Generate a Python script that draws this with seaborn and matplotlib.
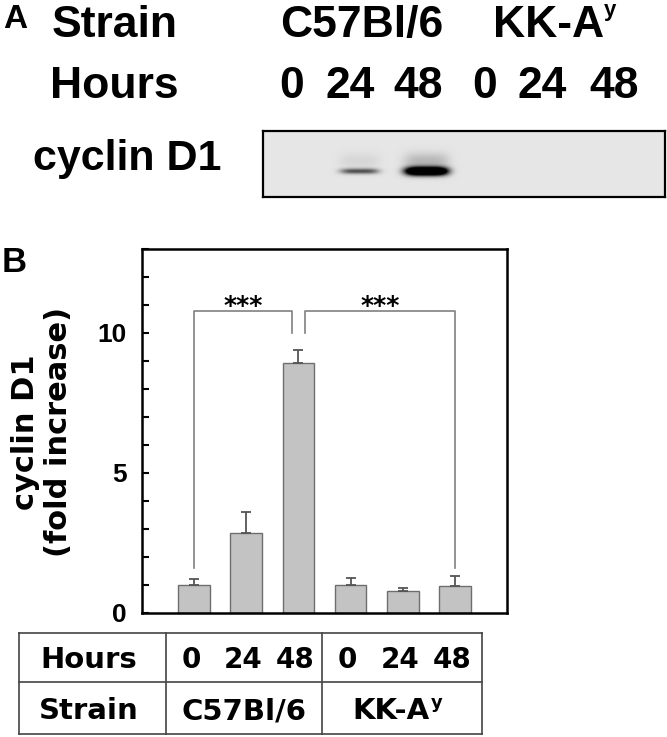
import numpy as np
import pandas as pd
import matplotlib
matplotlib.use("Agg")
import matplotlib.pyplot as plt
from matplotlib.ticker import MultipleLocator, FixedLocator
import seaborn as sns

# ---------------- data ----------------
strains = ["C57Bl/6", "C57Bl/6", "C57Bl/6", "KK-A", "KK-A", "KK-A"]
hours = ["0", "24", "48", "0", "24", "48"]
fold_increase = [1.00, 2.87, 8.93, 1.01, 0.77, 0.98]
sem = [0.22, 0.75, 0.47, 0.25, 0.13, 0.34]
band_intensity = [0.0, 0.33, 1.0, 0.0, 0.0, 0.0]
y_major_ticks = [0, 5, 10]
significance = ["***", "***"]

# ---------------- layout ----------------
W, H = 667, 737
fig = plt.figure(figsize=(W / 100, H / 100), dpi=100)
LIB = "Liberation Sans"
DJ = "DejaVu Sans"


def fbox(x0, y0, x1, y1):
    return [x0 / W, 1 - y1 / H, (x1 - x0) / W, (y1 - y0) / H]


ov = fig.add_axes([0, 0, 1, 1], zorder=0)
ov.set_xlim(0, W)
ov.set_ylim(H, 0)
ov.axis("off")


def t(x, y, s, size, family=LIB, ha="left", va="baseline", **kw):
    return ov.text(x, y, s, fontsize=size, fontweight="bold", family=family,
                   ha=ha, va=va, **kw)


# ---------------- Panel A ----------------
t(3, 28, "A", 24)
t(52, 37, "Strain", 32)
t(362, 37, "C57Bl/6", 32, ha="center")
t(493, 37, "KK-A", 32)
t(604, 16, "y", 16)
t(50, 98, "Hours", 32)
hdr_x = [292, 350, 418, 485, 542, 614]
for hx, h in zip(hdr_x, hours):
    t(hx, 98, h, 32, ha="center")
t(33, 170, "cyclin D1", 31)

axb = fig.add_axes(fbox(263, 131, 665, 197), zorder=1)
nx, ny = 804, 132
X, Y = np.meshgrid(np.linspace(-0.5, 5.5, nx), np.linspace(0, 1, ny))
dark = np.zeros_like(X)
for i, amp in enumerate(band_intensity):
    if amp <= 0:
        continue
    cx = i - 0.06
    axw = 0.27 + 0.05 * amp
    sy = 0.03 + 0.035 * amp
    core = np.exp(-(np.abs(X - cx) / axw) ** 4) * np.exp(-((Y - 0.39) / sy) ** 2)
    haze = 0.2 * amp * np.exp(-(np.abs(X - cx) / (axw * 1.05)) ** 4) * \
        np.exp(-((Y - 0.55) / 0.12) ** 2)
    dark += 2.0 * amp * core + haze
img = 0.90 * (1 - np.clip(dark, 0, 1))
axb.imshow(img, extent=(-0.5, 5.5, 0, 1), origin="lower", aspect="auto",
           cmap="gray", vmin=0, vmax=1, interpolation="bilinear")
axb.set_xlim(-0.5, 5.5)
axb.set_ylim(0, 1)
axb.set_xticks([])
axb.set_yticks([])
for sp in axb.spines.values():
    sp.set_linewidth(1.6)
    sp.set_color("black")

# ---------------- Panel B ----------------
t(2, 272, "B", 25)

ax = fig.add_axes(fbox(142, 249, 507, 613), zorder=2)
groups = [f"{s} {h} h" for s, h in zip(strains, hours)]
df = pd.DataFrame({"group": groups, "fold": fold_increase})
sns.barplot(data=df, x="group", y="fold", order=groups, color="#c3c3c3",
            edgecolor="#6e6e6e", linewidth=1.0, width=0.61, errorbar=None,
            saturation=1, ax=ax)
xs = [p.get_x() + p.get_width() / 2 for p in ax.patches]
ax.errorbar(xs, fold_increase, yerr=[np.zeros(len(sem)), sem], fmt="none",
            ecolor="#555555", elinewidth=1.3, capsize=3.3, capthick=1.3, zorder=3)
ax.set_xlim(-1, 6)
ax.set_ylim(0, 13)
ax.set_xticks([])
ax.set_xlabel("")
ax.set_ylabel("")
ax.yaxis.set_major_locator(FixedLocator(y_major_ticks))
ax.yaxis.set_minor_locator(MultipleLocator(1))
ax.tick_params(axis="y", which="both", direction="in", length=5, width=1.5,
               pad=11, left=True, right=False, color="black")
for lab in ax.get_yticklabels():
    lab.set_fontsize(19)
    lab.set_fontweight("bold")
    lab.set_family(LIB)
for sp in ax.spines.values():
    sp.set_visible(True)
    sp.set_linewidth(1.8)
    sp.set_color("black")

# significance brackets
bcol = "#808080"
top, inner, leg = 10.8, 10.0, 1.6
ax.plot([xs[0], xs[0], xs[2] - 0.12, xs[2] - 0.12], [leg, top, top, inner],
        color=bcol, lw=1.2, zorder=4)
ax.plot([xs[2] + 0.12, xs[2] + 0.12, xs[5], xs[5]], [inner, top, top, leg],
        color=bcol, lw=1.2, zorder=4)
ax.text((xs[0] + xs[2] - 0.12) / 2, 10.72, significance[0], ha="center",
        va="baseline", fontsize=18, fontweight="bold", family=DJ)
ax.text((xs[2] + 0.12 + xs[5]) / 2, 10.72, significance[1], ha="center",
        va="baseline", fontsize=18, fontweight="bold", family=DJ)

# y label
t(25.5, 432, "cyclin D1", 22, family=DJ, ha="center", va="center", rotation=90)
t(58.5, 432, "(fold increase)", 22, family=DJ, ha="center", va="center", rotation=90)

# ---------------- table ----------------
lc = "#444444"
for yy in (633, 682, 734):
    ov.plot([19, 482], [yy, yy], color=lc, lw=1.2)
for xx in (19, 166, 322, 482):
    ov.plot([xx, xx], [633, 734], color=lc, lw=1.2)
t(89, 668, "Hours", 21, family=DJ, ha="center")
t(89, 719, "Strain", 21, family=DJ, ha="center")
for x, h in zip(xs, hours):
    px = ax.transData.transform((x, 0))[0] - 3
    t(px, 668, h, 20, family=DJ, ha="center")
t(244, 719, "C57Bl/6", 21, family=DJ, ha="center")
t(391, 719, "KK-A", 21, family=DJ, ha="center")
t(431, 708, "y", 13, family=DJ)

fig.savefig("out.png", dpi=100)
